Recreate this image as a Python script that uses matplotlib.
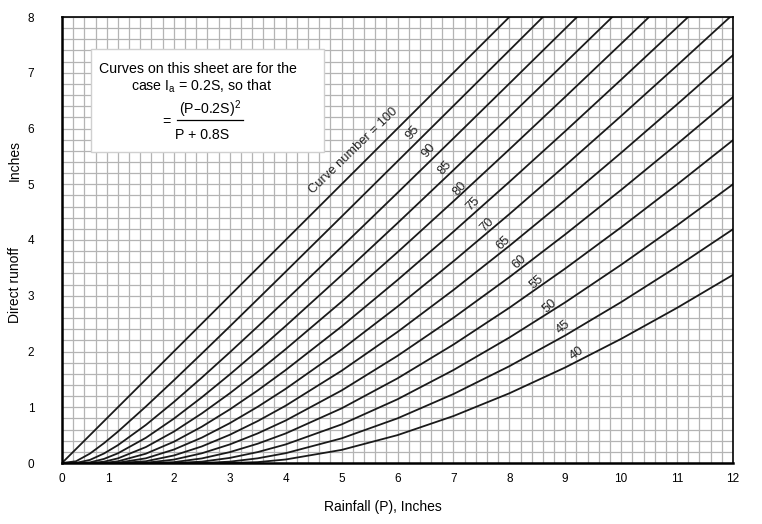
import numpy as np
import matplotlib.pyplot as plt

plt.rcParams['font.family'] = ['Liberation Sans', 'DejaVu Sans']

# Lluvia P (pulgadas) donde se leyeron los valores de escurrimiento
rain = [0, 0.25, 0.5, 0.75, 1, 1.5, 2, 2.5, 3, 3.5, 4, 5, 6, 7, 8, 9, 10, 11, 12]

# Escurrimiento directo Q (pulgadas) para cada numero de curva
q100 = [0, 0.25, 0.5, 0.75, 1, 1.5, 2, 2.5, 3, 3.5, 4, 5, 6, 7, 8, 9, 10, 11, 12]
q95 = [0, 0.031, 0.169, 0.355, 0.563, 1.013, 1.483, 1.963, 2.449, 2.939, 3.431, 4.420, 5.412, 6.406, 7.401, 8.398, 9.395, 10.393, 11.391]
q90 = [0, 0.001, 0.056, 0.170, 0.320, 0.683, 1.094, 1.531, 1.984, 2.448, 2.919, 3.876, 4.846, 5.823, 6.806, 7.792, 8.780, 9.771, 10.762]
q85 = [0, 0, 0.011, 0.073, 0.174, 0.452, 0.795, 1.178, 1.588, 2.016, 2.458, 3.368, 4.303, 5.253, 6.213, 7.181, 8.155, 9.133, 10.115]
q80 = [0, 0, 0, 0.023, 0.083, 0.286, 0.563, 0.889, 1.250, 1.636, 2.042, 2.893, 3.781, 4.694, 5.625, 6.568, 7.521, 8.481, 9.446]
q75 = [0, 0, 0, 0.002, 0.030, 0.167, 0.381, 0.651, 0.961, 1.302, 1.667, 2.449, 3.282, 4.149, 5.042, 5.952, 6.877, 7.813, 8.758]
q70 = [0, 0, 0, 0, 0.005, 0.084, 0.241, 0.455, 0.714, 1.008, 1.330, 2.036, 2.805, 3.618, 4.464, 5.335, 6.225, 7.130, 8.048]
q65 = [0, 0, 0, 0, 0, 0.031, 0.135, 0.297, 0.506, 0.752, 1.028, 1.654, 2.351, 3.103, 3.894, 4.717, 5.565, 6.433, 7.316]
q60 = [0, 0, 0, 0, 0, 0.004, 0.061, 0.174, 0.333, 0.531, 0.762, 1.301, 1.922, 2.604, 3.333, 4.101, 4.899, 5.721, 6.564]
q55 = [0, 0, 0, 0, 0, 0, 0.015, 0.082, 0.195, 0.346, 0.530, 0.980, 1.518, 2.124, 2.784, 3.488, 4.228, 4.997, 5.791]
q50 = [0, 0, 0, 0, 0, 0, 0, 0.024, 0.091, 0.196, 0.333, 0.692, 1.143, 1.667, 2.250, 2.882, 3.556, 4.263, 5.000]
q45 = [0, 0, 0, 0, 0, 0, 0, 0.000, 0.024, 0.084, 0.176, 0.442, 0.801, 1.237, 1.736, 2.289, 2.886, 3.523, 4.193]
q40 = [0, 0, 0, 0, 0, 0, 0, 0, 0, 0.016, 0.063, 0.235, 0.500, 0.842, 1.250, 1.714, 2.227, 2.783, 3.375]

curve_numbers = [100, 95, 90, 85, 80, 75, 70, 65, 60, 55, 50, 45, 40]
curves = [q100, q95, q90, q85, q80, q75, q70, q65, q60, q55, q50, q45, q40]

# Etiquetas de las curvas: texto, posicion (P, Q) y rotacion
label_text = ['Curve number = 100', '95', '90', '85', '80', '75', '70',
              '65', '60', '55', '50', '45', '40']
label_x = [5.22, 6.28, 6.55, 6.85, 7.12, 7.35, 7.6, 7.89, 8.19, 8.49, 8.73, 8.96, 9.21]
label_y = [5.6, 5.92, 5.61, 5.29, 4.93, 4.65, 4.27, 3.95, 3.61, 3.25, 2.82, 2.44, 1.97]
label_rot = [44, 50, 50, 48, 48, 46, 46, 44, 44, 42, 42, 40, 36]

# Marcas del eje x (la del 1 esta corrida en la hoja original)
xtick_pos = [0, 0.83, 2, 3, 4, 5, 6, 7, 8, 9, 10, 11, 12]
xtick_lab = ['0', '1', '2', '3', '4', '5', '6', '7', '8', '9', '10', '11', '12']

fig = plt.figure(figsize=(7.62, 5.24), dpi=100)
ax = fig.add_axes([62 / 762, 1 - 463 / 524, (733 - 62) / 762, (463 - 17) / 524])

# Cuadricula cada 0.2 pulgadas
for v in np.arange(0, 12.01, 0.2):
    ax.axvline(v, color='#b4b4b4', lw=0.9, zorder=1)
for v in np.arange(0, 8.01, 0.2):
    ax.axhline(v, color='#b4b4b4', lw=0.9, zorder=1)

for q in curves:
    ax.plot(rain, q, color='#1a1a1a', lw=1.3, zorder=3)

for t, x, y, r in zip(label_text, label_x, label_y, label_rot):
    ax.text(x, y, t, rotation=r, ha='center', va='center', fontsize=9.3,
            color='#222222', zorder=4, rotation_mode='anchor')

ax.set_xlim(0, 12)
ax.set_ylim(0, 8)

# Recuadro con la ecuacion
ax.add_patch(plt.Rectangle((0.52, 5.58), 4.17, 1.85, facecolor='white',
                           edgecolor='#d0d0d0', lw=1, zorder=5))
ax.text(2.43, 7.07, 'Curves on this sheet are for the', ha='center', va='center',
        fontsize=10.2, zorder=6)
ax.text(2.49, 6.75, 'case I$_\\mathregular{a}$ = 0.2S, so that', ha='center', va='center',
        fontsize=10.2, zorder=6)
ax.text(2.65, 6.34, '(P\u20130.2S)$^\\mathregular{2}$', ha='center', va='center',
        fontsize=10.2, zorder=6)
ax.plot([2.06, 3.24], [6.15, 6.15], color='black', lw=0.9, zorder=6)
ax.text(2.5, 5.89, 'P + 0.8S', ha='center', va='center', fontsize=10.2, zorder=6)
ax.text(1.86, 6.12, '=', ha='center', va='center', fontsize=10.2, zorder=6)

ax.set_xticks(xtick_pos)
ax.set_xticklabels(xtick_lab)
ax.set_yticks(range(0, 9))
ax.tick_params(axis='both', length=0, labelsize=8.5)
ax.tick_params(axis='y', pad=20)
ax.tick_params(axis='x', pad=7)

for s in ['left', 'bottom']:
    ax.spines[s].set_linewidth(1.8)
for s in ['top', 'right']:
    ax.spines[s].set_linewidth(1.2)
for s in ax.spines.values():
    s.set_zorder(7)

fig.text(15 / 762, 1 - 285 / 524, 'Direct runoff', rotation=90, ha='center',
         va='center', fontsize=10)
fig.text(15 / 762, 1 - 160 / 524, 'Inches', rotation=90, ha='center',
         va='center', fontsize=10)
fig.text(383 / 762, 1 - 507 / 524, 'Rainfall (P), Inches', ha='center',
         va='center', fontsize=10)

fig.savefig('out.png', dpi=100)
